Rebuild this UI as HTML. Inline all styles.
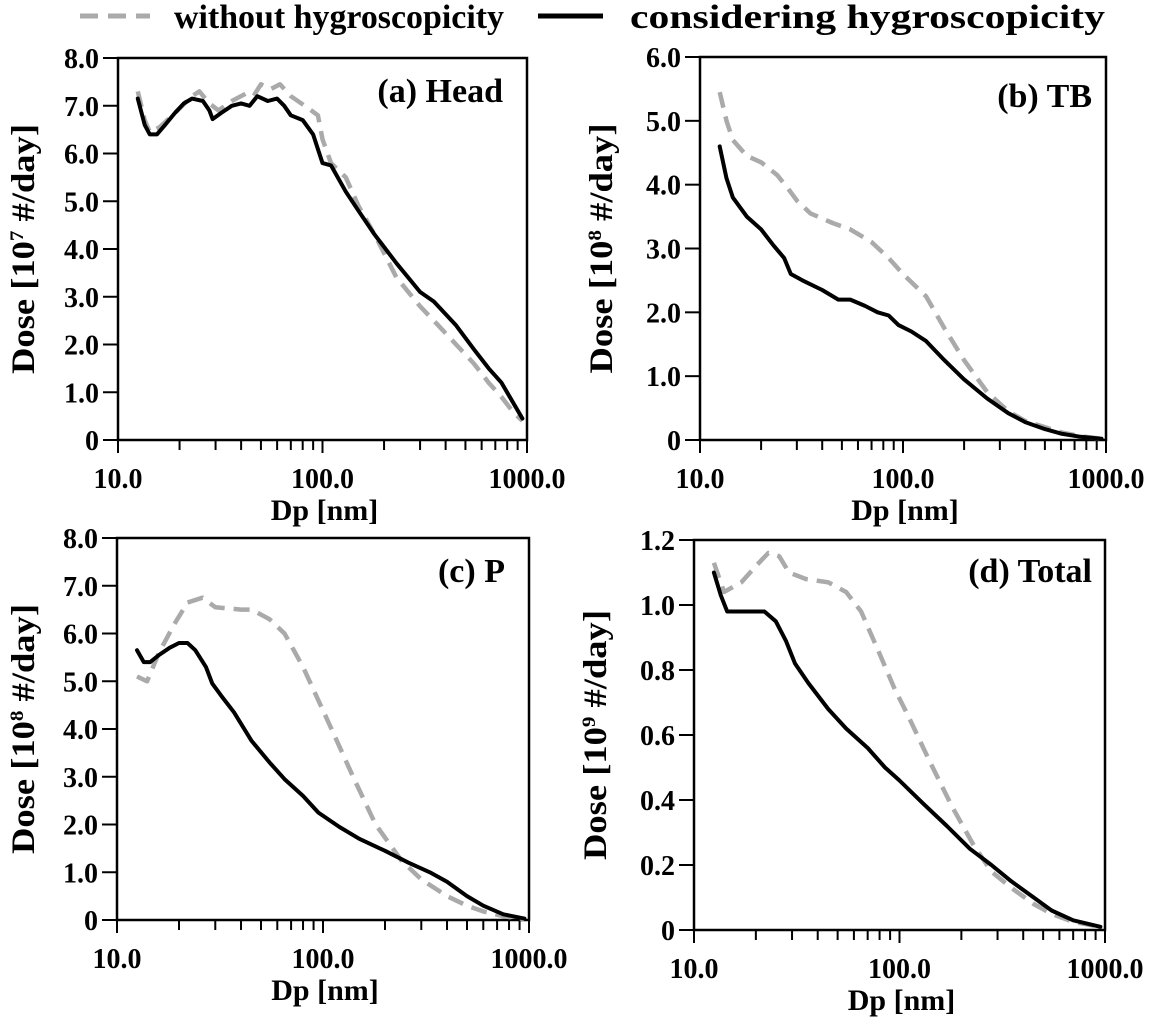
<!DOCTYPE html>
<html><head><meta charset="utf-8">
<style>
html,body{margin:0;padding:0;background:#fff;}
svg{display:block;font-family:"Liberation Serif",serif;font-weight:bold;}
</style></head>
<body>
<svg id="fig" width="1152" height="1017" viewBox="0 0 1152 1017">
  <g>
    <line x1="80" y1="16" x2="150" y2="16" stroke="#aaa" stroke-width="5" stroke-dasharray="18,10"/>
    <text x="174" y="28" font-size="34" textLength="330" lengthAdjust="spacingAndGlyphs">without hygroscopicity</text>
    <line x1="538" y1="16" x2="603" y2="16" stroke="#000" stroke-width="5"/>
    <text x="630" y="28" font-size="34" textLength="475" lengthAdjust="spacingAndGlyphs">considering hygroscopicity</text>
  </g>
</svg>
<script>
// Panel (a) Head, ×10^7 #/day
const headDp = [12.5,13.5,14.3,15.5,17,19,21,23,26,28,29,32,36,40,44,48,54,60,65,70,80,90,100,110,130,150,180,230,300,350,450,550,650,750,850,950];
const headWith = [7.15,6.6,6.4,6.4,6.6,6.85,7.05,7.15,7.1,6.9,6.72,6.85,7.0,7.05,7.0,7.2,7.1,7.15,7.0,6.8,6.7,6.4,5.8,5.75,5.2,4.8,4.3,3.7,3.1,2.9,2.4,1.9,1.5,1.2,0.8,0.45];
const headDpG = [12.5,13.5,14.3,16,19,23,25,28,31,36,42,46,50,56,62,70,85,95,100,110,130,150,180,230,300,350,450,550,650,750,850,950];
const headWithout = [7.3,6.7,6.45,6.55,6.85,7.2,7.3,7.05,6.9,7.1,7.25,7.2,7.45,7.35,7.45,7.2,6.95,6.8,6.3,5.8,5.5,4.9,4.3,3.4,2.8,2.5,2.0,1.6,1.2,0.9,0.6,0.4];
// Panel (b) TB, ×10^8
const tbDp = [12.5,13.5,14.5,17,20,23,26,28,32,40,48,55,65,75,85,95,110,130,160,200,260,330,400,500,600,750,950];
const tbWith = [4.6,4.1,3.8,3.5,3.3,3.05,2.85,2.6,2.5,2.35,2.2,2.2,2.1,2.0,1.95,1.8,1.7,1.55,1.25,0.95,0.65,0.42,0.28,0.17,0.1,0.05,0.02];
const tbDpG = [12.5,13.5,14.5,17,20,24,27,30,35,45,55,70,85,100,130,160,200,260,330,400,500,600,750,950];
const tbWithout = [5.45,5.0,4.7,4.45,4.35,4.15,3.95,3.75,3.55,3.4,3.3,3.1,2.85,2.6,2.25,1.75,1.25,0.75,0.45,0.3,0.2,0.12,0.06,0.02];
// Panel (c) P, ×10^8
const pDp = [12.5,13.5,14.5,16,18,20,22,24,27,29,32,37,45,55,65,80,95,120,150,200,260,330,400,500,600,750,950];
const pWith = [5.65,5.4,5.4,5.55,5.7,5.8,5.8,5.65,5.3,4.95,4.7,4.35,3.75,3.3,2.95,2.6,2.25,1.95,1.7,1.45,1.2,1.0,0.8,0.5,0.3,0.12,0.03];
const pDpG = [12.5,14,16,19,22,26,30,40,45,55,65,80,95,110,140,180,240,300,400,500,600,750,950];
const pWithout = [5.1,5.0,5.6,6.2,6.65,6.75,6.55,6.5,6.5,6.3,6.0,5.3,4.6,4.0,3.0,2.0,1.25,0.85,0.5,0.3,0.18,0.08,0.02];
// Panel (d) Total, ×10^9
const tDp = [12.5,13.5,14.5,18,22,25,28,31,36,45,55,70,85,100,130,170,220,280,350,450,550,700,950];
const tWith = [1.1,1.03,0.98,0.98,0.98,0.95,0.89,0.82,0.76,0.68,0.62,0.56,0.5,0.46,0.39,0.32,0.25,0.2,0.15,0.1,0.06,0.03,0.01];
const tDpG = [12.5,14,17,20,23,26,29,35,45,55,65,80,95,110,140,180,230,280,350,450,550,700,950];
const tWithout = [1.13,1.04,1.07,1.12,1.16,1.15,1.1,1.08,1.07,1.04,0.98,0.85,0.74,0.66,0.52,0.38,0.26,0.18,0.13,0.08,0.05,0.025,0.01];

const xTickLabels = ["10.0","100.0","1000.0"];
const yTicksA = ["0","1.0","2.0","3.0","4.0","5.0","6.0","7.0","8.0"];
const yTicksB = ["0","1.0","2.0","3.0","4.0","5.0","6.0"];
const yTicksD = ["0","0.2","0.4","0.6","0.8","1.0","1.2"];

const NS = "http://www.w3.org/2000/svg";
const svg = document.getElementById('fig');
function mk(tag, attrs, parent){ const e=document.createElementNS(NS,tag); for(const k in attrs) e.setAttribute(k,attrs[k]); (parent||svg).appendChild(e); return e; }

function panel(cfg){
  const g = mk('g',{});
  
  
  const L=cfg.l,R=cfg.r,T=cfg.t,B=cfg.b,ymax=cfg.ymax;
  const xs = d => L + (Math.log10(d)-1)/2*(R-L);
  const ys = v => B - v/ymax*(B-T);
  const frame = mk('rect',{x:L,y:T,width:R-L,height:B-T,fill:'none',stroke:'#000','stroke-width':2.5},g);
  
  
  for(let dec=1; dec<=100; dec*=10){
    for(let m=1;m<=10;m++){
      const d=dec*10*m; if(d>1000) break;
      const major = (m===1||m===10);
      if(m===10 && dec<100) continue;
      const x=xs(d);
      const t = mk('line',{x1:x,y1:B,x2:x,y2:B+(major?13:10),stroke:'#000','stroke-width':2},g);
      
      
    }
  }
  xTickLabels.forEach((s,i)=>{
    const x = L + i/2*(R-L);
    const t = mk('text',{x:x,y:B+48,'font-size':28,'text-anchor':'middle'},g);
    t.textContent=s;
    
    
  });
  const xt = mk('text',{x:(L+R)/2+2,y:B+80,'font-size':30,'text-anchor':'middle'},g);
  xt.textContent='Dp [nm]';
  
  
  cfg.yLabels.forEach((s,i)=>{
    const v = i*cfg.ystep;
    const y = ys(v);
    const t = mk('line',{x1:L-15,y1:y,x2:L,y2:y,stroke:'#000','stroke-width':2},g);
    
    
    const tl = mk('text',{x:L-19,y:y+10,'font-size':28,'text-anchor':'end'},g);
    tl.textContent=s;
    
    
  });
  const yt = mk('text',{transform:`translate(${cfg.ytx},${(T+B)/2}) rotate(-90)`,'font-size':33,'text-anchor':'middle',textLength:250,lengthAdjust:'spacingAndGlyphs'},g);
  yt.innerHTML = 'Dose [10<tspan dy="-11" font-size="19">'+cfg.exp+'</tspan><tspan dy="11"> #/day]</tspan>';
  
  
  const title = mk('text',{x:cfg.tx,y:cfg.ty,'font-size':34,'text-anchor':'end'},g);
  title.textContent=cfg.title;
  
  
  const pts=(xa,ya)=>xa.map((d,i)=>xs(d).toFixed(1)+','+ys(ya[i]).toFixed(1)).join(' ');
  const lg = mk('polyline',{points:pts(cfg.xg,cfg.yg),fill:'none',stroke:'#aaa','stroke-width':4.5,'stroke-dasharray':'16,9','stroke-linejoin':'round'},g);
  
  
  const lb = mk('polyline',{points:pts(cfg.xb,cfg.yb),fill:'none',stroke:'#000','stroke-width':4,'stroke-linejoin':'round','stroke-linecap':'round'},g);
  
  
}

panel({name:'panel-a-head',l:118,r:527,t:58,b:440,ymax:8,ystep:1,yLabels:yTicksA,exp:'7',ytx:34,title:'(a) Head',tx:503,ty:102,xb:headDp,yb:headWith,xg:headDpG,yg:headWithout});
panel({name:'panel-b-tb',l:700,r:1106,t:57,b:440,ymax:6,ystep:1,yLabels:yTicksB,exp:'8',ytx:612,title:'(b) TB',tx:1092,ty:107,xb:tbDp,yb:tbWith,xg:tbDpG,yg:tbWithout});
panel({name:'panel-c-p',l:117,r:529,t:538,b:920,ymax:8,ystep:1,yLabels:yTicksA,exp:'8',ytx:34,title:'(c) P',tx:505,ty:582,xb:pDp,yb:pWith,xg:pDpG,yg:pWithout});
panel({name:'panel-d-total',l:694,r:1105,t:540,b:930,ymax:1.2,ystep:0.2,yLabels:yTicksD,exp:'9',ytx:606,title:'(d) Total',tx:1092,ty:582,xb:tDp,yb:tWith,xg:tDpG,yg:tWithout});
</script>
</body></html>
